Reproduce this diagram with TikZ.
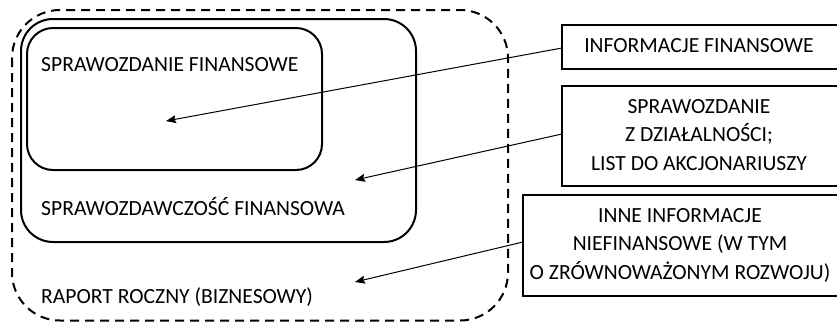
\documentclass[tikz,border=0pt]{standalone}
\usepackage{fontspec}
\setmainfont{Carlito}
\usetikzlibrary{arrows.meta}
\begin{document}
\begin{tikzpicture}[x=1pt,y=-1pt,
  lbl/.style={font=\fontsize{21.6}{28}\selectfont, inner sep=0pt, anchor=west},
  rbox/.style={draw, line width=2pt},
  sidebox/.style={font=\fontsize{21.6}{28.5}\selectfont, align=center, inner sep=0pt},
  conn/.style={line width=1pt, -{Stealth[length=10pt,width=8pt,inset=1.5pt]}}]
\useasboundingbox (0,0) rectangle (837,322);
\clip (0,0) rectangle (837,322);
% dashed outer
\draw[line width=2pt, dash pattern=on 9pt off 6pt, rounded corners=48pt] (12,10) rectangle (508,320.5);
% middle box
\draw[rbox, rounded corners=32pt] (21,19) rectangle (416,242);
% inner box
\draw[rbox, rounded corners=26pt] (27,28) rectangle (322,170);
% labels
\node[lbl] (sf) at (41,65) {SPRAWOZDANIE FINANSOWE};
\node[lbl] (swf) at (41,207) {SPRAWOZDAWCZOŚĆ FINANSOWA};
\node[lbl] (rr) at (41,297) {RAPORT ROCZNY (BIZNESOWY)};
% right boxes
\draw[rbox] (562,25) rectangle (845,69);
\node[sidebox] (b1) at (699,46) {INFORMACJE FINANSOWE};
\draw[rbox] (562,86) rectangle (845,186);
\node[sidebox] (b2) at (699,135) {SPRAWOZDANIE\\Z DZIAŁALNOŚCI;\\LIST DO AKCJONARIUSZY};
\draw[rbox] (523,195) rectangle (845,296);
\node[sidebox] (b3) at (680,245) {INNE INFORMACJE\\NIEFINANSOWE (W TYM\\O ZRÓWNOWAŻONYM ROZWOJU)};
% anchors
\coordinate (s1) at (562,48);
\coordinate (t1) at (166,121);
\coordinate (s2) at (562,134);
\coordinate (t2) at (355,180);
\coordinate (s3) at (523,242);
\coordinate (t3) at (355,282);
\draw[conn] (s1) -- (t1);
\draw[conn] (s2) -- (t2);
\draw[conn] (s3) -- (t3);
\end{tikzpicture}
\end{document}
